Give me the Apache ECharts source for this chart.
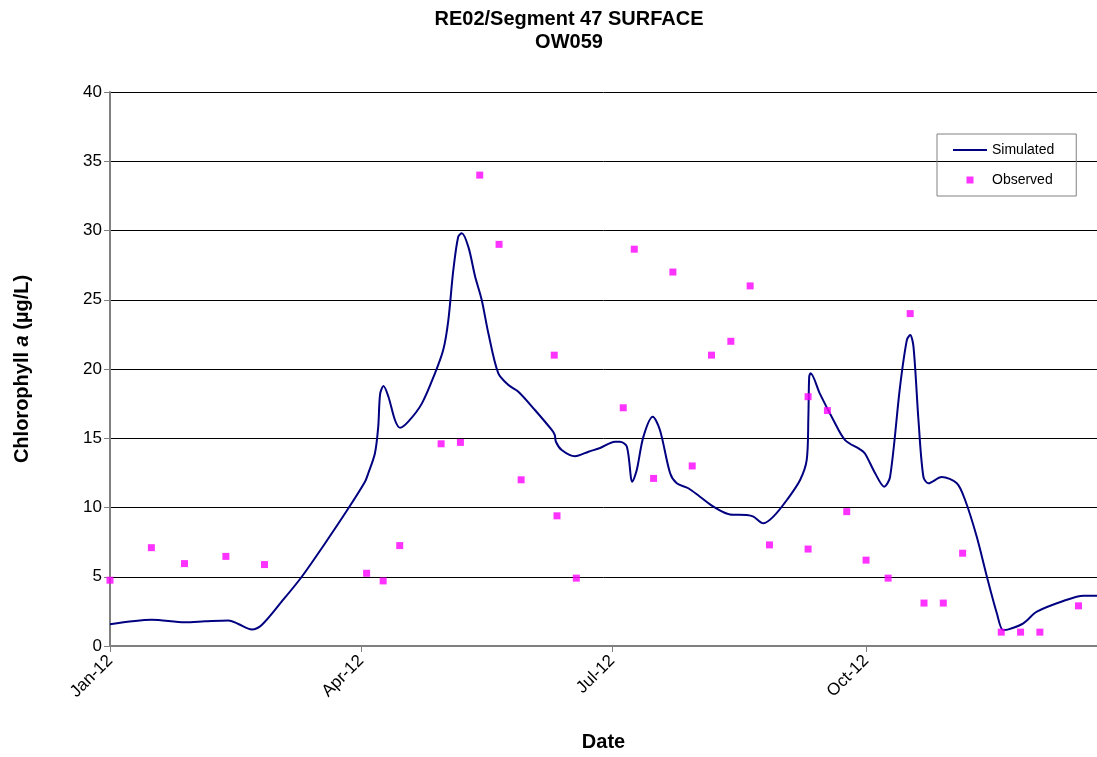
<!DOCTYPE html>
<html>
<head>
<meta charset="utf-8">
<script src="https://cdn.jsdelivr.net/npm/echarts@6/dist/echarts.min.js"></script>
<style>
  html, body { margin: 0; padding: 0; background: #fff; }
  #chart { width: 1097px; height: 757px; }
</style>
</head>
<body>
<div id="chart"></div>
<script>
// days counted from 1 Jan 2012
const tickDays = [0, 91, 182, 274];
const tickLabels = ["Jan-12", "Apr-12", "Jul-12", "Oct-12"];

const simDays = [
  0, 15.1, 27.2, 34.4, 42.9, 46.5, 51.4, 55, 62.2, 69.5, 77.9, 86.4, 92.4, 93.6,
  96, 97.2, 97.9, 99.1, 100.9, 103.3, 105.1, 108.1, 113, 117.8, 120.8, 122.6,
  124.4, 126.2, 127.5, 129.9, 132.3, 134.7, 137.1, 140.7, 144.4, 148, 154, 160.1,
  161.2, 161.6, 163.7, 168.5, 173.4, 177.6, 183, 184.8, 187.3, 189.3, 190.9,
  193.3, 196.7, 199.3, 203, 205.4, 209.6, 213.8, 218.7, 224.7, 230.8, 233.2,
  236.8, 240.4, 245.3, 250.1, 252.5, 253.1, 253.4, 253.9, 257.3, 262.2, 266.4,
  271.8, 273.6, 277.3, 280.6, 282.7, 286.3, 288.8, 290, 291.2, 293, 294.8, 296.6,
  301.4, 306.9, 309.9, 314.1, 317.8, 321.4, 323.6, 325.6, 331, 335.9, 345.5,
  352.8, 360
];
const simValues = [
  1.57, 1.9, 1.71, 1.78, 1.85, 1.59, 1.2, 1.52, 3.2, 5.0, 7.4, 9.94, 11.86, 12.47,
  13.9, 15.8, 18.2, 18.77, 18.0, 16.3, 15.76, 16.2, 17.5, 19.7, 21.4, 23.5,
  27.1, 29.55, 29.8, 28.8, 26.7, 25.0, 22.6, 19.7, 18.84, 18.36, 17.04, 15.6,
  15.23, 14.75, 14.15, 13.7, 14.03, 14.3, 14.75, 14.75, 14.4, 11.86, 12.7,
  15.1, 16.55, 15.6, 12.47, 11.75, 11.39, 10.78, 10.06, 9.5, 9.46, 9.34,
  8.86, 9.34, 10.54, 11.99, 13.43, 16.55, 19.44, 19.69, 18.2, 16.3, 14.87,
  14.2, 13.9, 12.47, 11.5, 12.2, 18.7, 22.1, 22.45, 21.6, 16.3, 12.2, 11.75,
  12.2, 11.75, 10.54, 7.9, 5.0, 2.36, 1.16, 1.2, 1.64, 2.48, 3.25,
  3.63, 3.63
];

const obsDays = [
  0, 15, 27, 42, 56, 93, 99, 105, 120, 127, 134, 141, 149, 161, 162, 169,
  186, 190, 197, 204, 211, 218, 225, 232, 239, 253, 253, 260, 267, 274, 282,
  290, 295, 302, 309, 323, 330, 337, 351
];
const obsValues = [
  4.75, 7.1, 5.95, 6.47, 5.88, 5.25, 4.7, 7.25, 14.6, 14.7, 34.0, 29.0, 12.0, 21.0, 9.4, 4.9,
  17.2, 28.65, 12.1, 27.0, 13.0, 21.0, 22.0, 26.0, 7.3, 7.0, 18.0, 17.0, 9.7, 6.2, 4.9,
  24.0, 3.1, 3.1, 6.7, 1.0, 1.0, 1.0, 2.9
];

const font = "'Liberation Sans', Arial, sans-serif";
const chart = echarts.init(document.getElementById("chart"));

const option = {
  backgroundColor: "#ffffff",
  animation: false,
  title: {
    text: "RE02/Segment 47 SURFACE\nOW059",
    left: 564,
    top: 3,
    textAlign: "center",
    textStyle: { fontFamily: font, fontSize: 20, fontWeight: "bold", color: "#000", lineHeight: 23 },
  },
  legend: {
    orient: "vertical",
    left: 937,
    top: 134,
    padding: [9, 22, 9, 16],
    itemGap: 16,
    itemWidth: 34,
    itemHeight: 7,
    borderColor: "#808080",
    borderWidth: 1,
    symbolKeepAspect: true,
    textStyle: { fontFamily: font, fontSize: 14, color: "#000" },
    data: [
      { name: "Simulated", icon: "path://M0,0H34V2H0Z" },
      { name: "Observed", icon: "path://M0,0H7V7H0Z" },
    ],
  },
  grid: { left: 110, right: 0, top: 92, bottom: 111 },
  xAxis: {
    type: "value",
    min: 0,
    max: 357.7,
    name: "Date",
    nameLocation: "middle",
    nameGap: 86,
    nameTextStyle: { fontFamily: font, fontSize: 20, fontWeight: "bold", color: "#000" },
    axisLine: { lineStyle: { color: "#808080", width: 2 } },
    axisTick: { customValues: tickDays, length: 6, lineStyle: { color: "#808080" } },
    axisLabel: {
      customValues: tickDays,
      formatter: (v) => tickLabels[tickDays.indexOf(v)],
      rotate: 45,
      margin: 12,
      fontFamily: font,
      fontSize: 17,
      color: "#000",
    },
    splitLine: { show: false },
  },
  yAxis: {
    type: "value",
    min: 0,
    max: 40,
    interval: 5,
    name: "{b|Chlorophyll }{i|a}{b| (µg/L)}",
    nameLocation: "middle",
    nameRotate: 90,
    nameGap: 78,
    nameTextStyle: {
      rich: {
        b: { fontFamily: font, fontSize: 20, fontWeight: "bold", color: "#000" },
        i: { fontFamily: font, fontSize: 20, fontWeight: "bold", fontStyle: "italic", color: "#000" },
      },
    },
    axisLine: { show: true, lineStyle: { color: "#808080", width: 2 } },
    axisTick: { show: true, length: 6, lineStyle: { color: "#808080" } },
    axisLabel: { margin: 8, fontFamily: font, fontSize: 17, color: "#000" },
    splitLine: { lineStyle: { color: "#000", width: 1 } },
  },
  series: [
    {
      name: "Simulated",
      type: "line",
      data: simDays.map((d, i) => [d, simValues[i]]),
      symbol: "none",
      smooth: 0.3,
      lineStyle: { color: "#000080", width: 2 },
      itemStyle: { color: "#000080" },
      z: 3,
    },
    {
      name: "Observed",
      type: "scatter",
      data: obsDays.map((d, i) => [d, obsValues[i]]),
      symbol: "rect",
      symbolSize: 7,
      itemStyle: { color: "#ff00ff" },
      z: 4,
    },
  ],
};

chart.setOption(option);
</script>
</body>
</html>
